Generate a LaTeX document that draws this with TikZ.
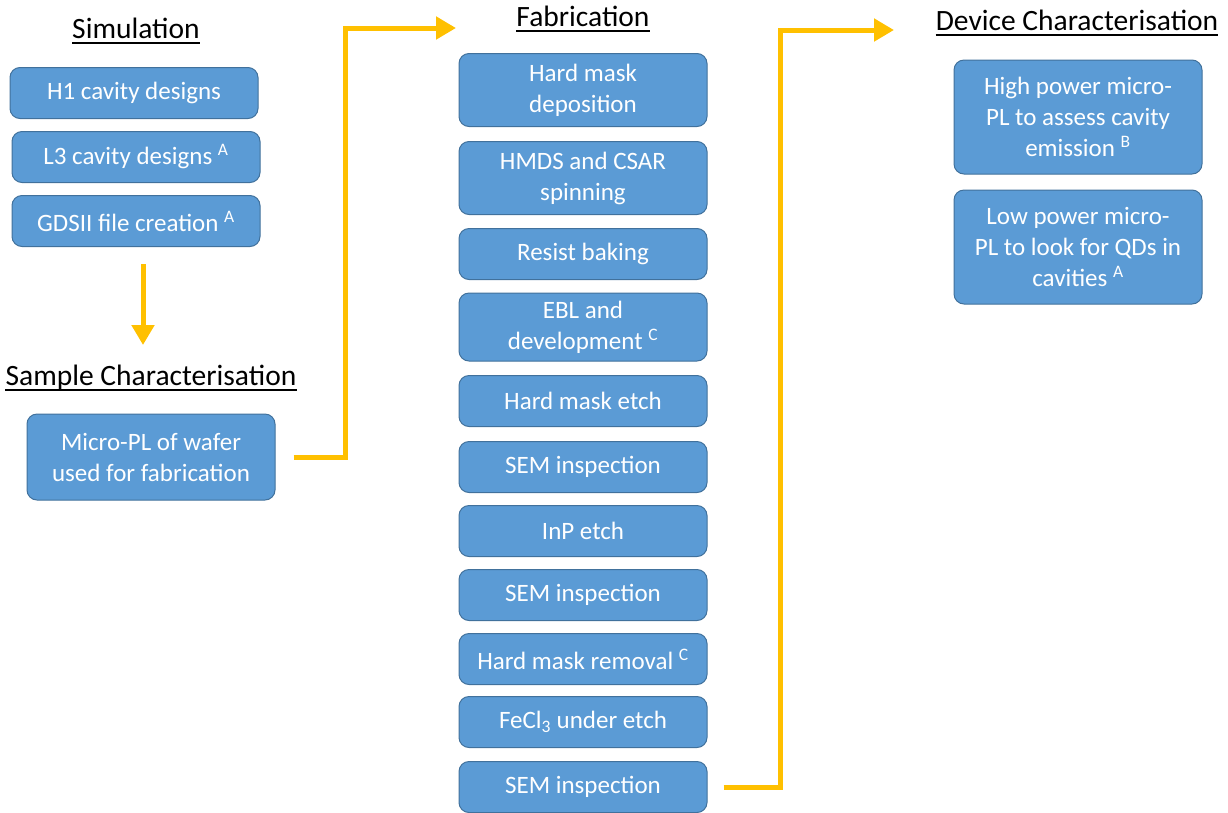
\documentclass[tikz,border=0pt]{standalone}
\usepackage{fontspec}
\setmainfont{Carlito}
\usetikzlibrary{arrows.meta, positioning}
\definecolor{STEP}{HTML}{5B9BD5}
\definecolor{EDGE}{HTML}{41719C}
\definecolor{FLOW}{HTML}{FFC000}
\tikzset{
  STEP/.style={% Style for the blue process boxes
      rectangle, rounded corners=10pt,
      line width=1pt,
      align=center,
      minimum width=248pt,
      minimum height=51pt,
      inner sep=2pt,
      text=white,
      fill=STEP,
      draw=EDGE,
      font=\fontsize{25}{31}\selectfont,
  },
  HEAD/.style={% Style for the column headings, underlined afterwards
      anchor=base,
      inner xsep=0pt,
      text=black,
      font=\fontsize{29.5}{34}\selectfont,
  },
  FLOW/.style={% Thick yellow arrows between the columns
      line width=5pt,
      draw=FLOW,
      -{Triangle[width=22pt,length=20pt]},
  }
}
\begin{document}
\begin{tikzpicture}[x=1pt,y=-1pt]
    \useasboundingbox (0,0) rectangle (1228,812);
    % headings
    \node[HEAD] (sim) at (136,38) {Simulation};
    \node[HEAD] (sample) at (151,385) {Sample Characterisation};
    \node[HEAD] (fab) at (583,26) {Fabrication};
    \node[HEAD] (dev) at (1077,30) {Device Characterisation};
    \foreach \h in {sim, sample, fab, dev} {% underline every heading
      \draw[line width=1.6pt] ([yshift=-5pt]\h.base west) -- ([yshift=-5pt]\h.base east);
    }
    % simulation column
    \node[STEP] (h1) at (134,93) {H1 cavity designs};
    \node[STEP] (l3) at (136,157) {L3 cavity designs \textsuperscript{A}};
    \node[STEP] (gds) at (136,221) {GDSII file creation \textsuperscript{A}};
    \node[STEP, minimum height=86pt] (micro) at (151,457) {Micro-PL of wafer\\used for fabrication};
    % fabrication column
    \node[STEP, minimum height=73pt] (mask) at (583,90) {Hard mask\\deposition};
    \node[STEP, minimum height=73pt] (spin) at (583,178) {HMDS and CSAR\\spinning};
    \node[STEP] (bake) at (583,254) {Resist baking};
    \node[STEP, minimum height=68pt] (ebl) at (583,327) {EBL and\\development \textsuperscript{C}};
    \node[STEP] (etch) at (583,401) {Hard mask etch};
    \node[STEP] (sem1) at (583,467) {SEM inspection};
    \node[STEP] (inp) at (583,531) {InP etch};
    \node[STEP] (sem2) at (583,595) {SEM inspection};
    \node[STEP] (remove) at (583,659) {Hard mask removal \textsuperscript{C}};
    \node[STEP] (fecl) at (583,722) {FeCl\textsubscript{3} under etch};
    \node[STEP] (sem3) at (583,787) {SEM inspection};
    % device column
    \node[STEP, minimum height=114pt] (high) at (1078,117) {High power micro-\\PL to assess cavity\\emission \textsuperscript{B}};
    \node[STEP, minimum height=114pt] (low) at (1078,247) {Low power micro-\\PL to look for QDs in\\cavities \textsuperscript{A}};
    % arrows
    \coordinate (fabin) at (456,28);
    \coordinate (devin) at (894,30);
    \draw[FLOW] ([xshift=7pt]gds.south) ++(0,17) -- ++(0,81);
    \draw[FLOW] ([xshift=18pt]micro.east) -- ++(52,0) |- (fabin);
    \draw[FLOW] ([xshift=16pt]sem3.east) -- ++(57,0) |- (devin);
\end{tikzpicture}
\end{document}
